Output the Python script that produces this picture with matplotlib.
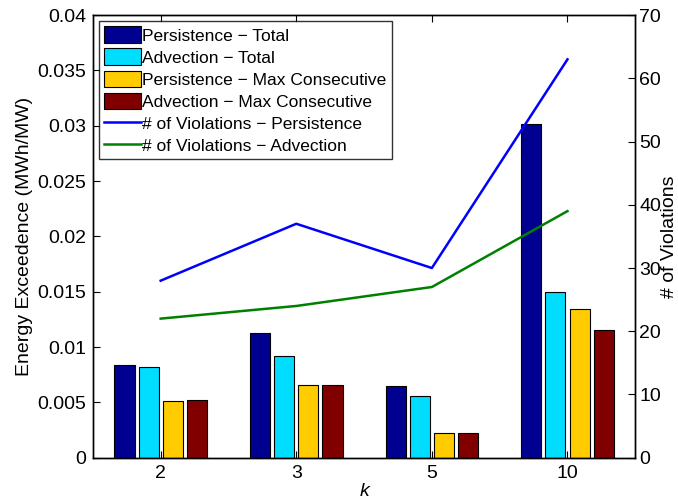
import numpy as np
import matplotlib
matplotlib.use('Agg')
import matplotlib.pyplot as plt

plt.rcParams['font.family'] = ['Liberation Sans', 'DejaVu Sans']

k_labels = ['2', '3', '5', '10']
persistence_total = [0.0084, 0.0113, 0.0065, 0.0302]
advection_total = [0.0082, 0.0092, 0.0056, 0.0150]
persistence_maxcons = [0.0051, 0.0066, 0.0022, 0.0134]
advection_maxcons = [0.0052, 0.0066, 0.0022, 0.0115]
viol_persistence = [28, 37, 30, 63]
viol_advection = [22, 24, 27, 39]

bar_series = [
    (persistence_total, '#000090', 'Persistence \u2212 Total'),
    (advection_total, '#00DDFF', 'Advection \u2212 Total'),
    (persistence_maxcons, '#FFCC00', 'Persistence \u2212 Max Consecutive'),
    (advection_maxcons, '#800000', 'Advection \u2212 Max Consecutive'),
]

x = np.arange(len(k_labels))
pitch = 0.178
width = 0.148

fig = plt.figure(figsize=(6.78, 5.03), dpi=100)
ax = fig.add_axes([0.137, 0.09, 0.800, 0.880])
ax2 = ax.twinx()

handles = []
for i, (vals, col, lab) in enumerate(bar_series):
    b = ax.bar(x + (i - 1.5) * pitch, vals, width, color=col, edgecolor='black',
               linewidth=0.8, label=lab)
    handles.append(b)

l1, = ax2.plot(x, viol_persistence, color='#0000FF', lw=1.8,
               label='# of Violations \u2212 Persistence')
l2, = ax2.plot(x, viol_advection, color='#008000', lw=1.8,
               label='# of Violations \u2212 Advection')
handles += [l1, l2]

ax.set_xlim(-0.5, 3.5)
ax.set_ylim(0, 0.04)
ax.set_yticks(np.arange(0, 0.0401, 0.005))
ax.set_yticklabels(['0', '0.005', '0.01', '0.015', '0.02', '0.025', '0.03', '0.035', '0.04'])
ax.set_xticks(x)
ax.set_xticklabels(k_labels)
ax2.set_ylim(0, 70)
ax2.set_yticks(np.arange(0, 71, 10))

for a in (ax, ax2):
    for s in a.spines.values():
        s.set_linewidth(1.0)
ax.tick_params(axis='both', direction='in', labelsize=14, length=5, top=True, pad=5)
ax.tick_params(axis='y', right=False)
ax2.tick_params(axis='y', direction='in', labelsize=14, length=5, pad=3)

ax.set_xlabel('k', fontsize=14, style='italic', labelpad=1)
ax.set_ylabel('Energy Exceedence (MWh/MW)', fontsize=14, labelpad=3)
ax2.set_ylabel('# of Violations', fontsize=14, labelpad=0)

leg = ax2.legend(handles=handles, loc='upper left', fontsize=12.5, frameon=True,
                 fancybox=False, edgecolor='black', borderpad=0.3,
                 labelspacing=0.28, handlelength=2.1, handleheight=1.1,
                 handletextpad=0.1, borderaxespad=0.35)
leg.get_frame().set_linewidth(1.0)

fig.savefig('out.png', dpi=100)
